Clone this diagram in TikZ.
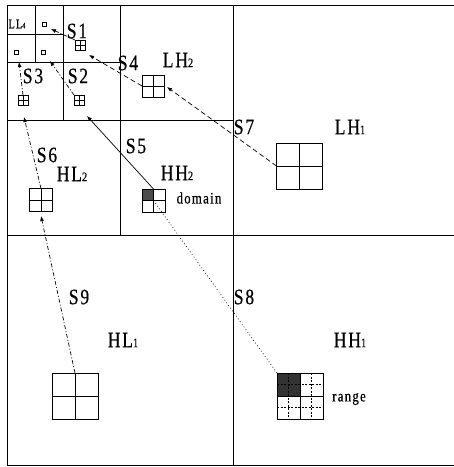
\documentclass[tikz,border=0pt]{standalone}
\usepackage{fontspec}
\setmainfont{Liberation Serif}
\newfontfamily\labfont[FakeStretch=0.8,LetterSpace=8,FakeBold=0.5]{Liberation Serif}
\usetikzlibrary{arrows.meta,calc}
\newcommand{\lowdig}[1]{{\fontsize{13}{13}\selectfont #1}}
\newcommand{\tinydig}[1]{{\fontsize{8}{8}\selectfont #1}}
\begin{document}
\begin{tikzpicture}[x=1pt,y=-1pt,
  bandline/.style={line width=1pt},
  quad/.style={draw, line width=0.8pt, minimum size=#1, inner sep=0pt, outer sep=0pt,
     path picture={\draw[line width=0.8pt] (path picture bounding box.north) -- (path picture bounding box.south) (path picture bounding box.west) -- (path picture bounding box.east);}},
  quadfill/.style={draw, line width=0.8pt, minimum size=#1, inner sep=0pt, outer sep=0pt,
     path picture={\fill[black!70] (path picture bounding box.north west) rectangle (path picture bounding box.center);
       \draw[line width=0.8pt] (path picture bounding box.north) -- (path picture bounding box.south) (path picture bounding box.west) -- (path picture bounding box.east);}},
  tinysq/.style={draw, line width=0.8pt, minimum size=4pt, inner sep=0pt, outer sep=0pt},
  lab/.style={font=\labfont\fontsize{22}{22}\selectfont, inner sep=0pt},
  smalllab/.style={font=\labfont\fontsize{16}{16}\selectfont, inner sep=0pt},
  arr/.style={line width=0.7pt, -{Latex[length=5pt,width=4pt]}},
  dshdot/.style={dash pattern=on 4pt off 2pt on 1pt off 2pt},
  dsh/.style={dash pattern=on 5pt off 3pt},
  dts/.style={line width=0.7pt, dash pattern=on 0.8pt off 2.5pt},
]
\useasboundingbox (0,0) rectangle (454,467);
% subband lines
\draw[bandline] (454,5) -- (7,5) -- (7,465) -- (454,465);
\draw[bandline] (233,5) -- (233,465);
\draw[bandline] (7,235) -- (454,235);
\draw[bandline] (120,5) -- (120,235);
\draw[bandline] (7,120) -- (233,120);
\draw[bandline] (63,5) -- (63,120);
\draw[bandline] (7,62) -- (120,62);
\draw[bandline] (35,5) -- (35,62);
\draw[bandline] (7,34) -- (63,34);
% tiny squares
\node[tinysq] (t1) at (44,24) {};
\node[tinysq] (t2) at (16,52) {};
\node[tinysq] (t3) at (43,52) {};
% grids
\node[quad=10pt] (s1) at (80,45) {};
\node[quad=10pt] (s3) at (23,100) {};
\node[quad=10pt] (s2) at (79,100) {};
\node[quad=22pt] (lh2) at (153,86) {};
\node[quad=23pt] (hl2) at (41,200) {};
\node[quadfill=23pt] (hh2) at (153.5,200.5) {};
\node[quad=46pt] (lh1) at (299.5,166) {};
\node[quad=46pt] (hl1) at (75,396) {};
\node[draw, line width=0.8pt, minimum size=46pt, inner sep=0pt, outer sep=0pt] (hh1) at (300,396) {};
\fill[black!80] (hh1.north west) rectangle (hh1.center);
\draw[line width=0.6pt, dash pattern=on 2pt off 1.5pt]
  ($(hh1.north west)!0.25!(hh1.north east)$) -- ($(hh1.south west)!0.25!(hh1.south east)$)
  ($(hh1.north west)!0.75!(hh1.north east)$) -- ($(hh1.south west)!0.75!(hh1.south east)$)
  ($(hh1.north west)!0.25!(hh1.south west)$) -- ($(hh1.north east)!0.25!(hh1.south east)$)
  ($(hh1.north west)!0.75!(hh1.south west)$) -- ($(hh1.north east)!0.75!(hh1.south east)$);
\draw[line width=0.8pt] (hh1.north) -- (hh1.south) (hh1.west) -- (hh1.east);
\draw[line width=0.8pt] (hh1.north west) rectangle (hh1.south east);
% arrow tips
\coordinate (a1) at (51,29);
\coordinate (a2) at (50,61);
\coordinate (a3) at (19,62);
\coordinate (a4) at (89,55);
\coordinate (a5) at (87,116);
\coordinate (a6) at (24,117);
\coordinate (a7) at (167,87);
\coordinate (a9) at (41,216);
% connectors
\draw[arr, dshdot] (s1.north west) -- (a1);
\draw[arr, dshdot] (s2.north west) -- (a2);
\draw[arr, dshdot] (s3.north) -- (a3);
\draw[arr, dsh] (lh2.west) -- (a4);
\draw[arr] (hh2.north) -- (a5);
\draw[arr, dshdot] (hl2.north) -- (a6);
\draw[arr, dsh] (lh1.west) -- (a7);
\draw[dts] (hh2.center) -- (hh1.north west);
\draw[arr, dshdot] (hl1.north) -- (a9);
% labels
\node[font=\labfont\fontsize{13}{13}\selectfont, inner sep=0pt] (lLL4) at (17,24) {LL\tinydig{4}};
\node[lab] (lS1) at (77,31) {S1};
\node[lab] (lS2) at (78,76) {S2};
\node[lab] (lS3) at (33,76) {S3};
\node[lab] (lS4) at (128,63) {S4};
\node[lab] (lS5) at (136,146) {S5};
\node[lab] (lS6) at (47,155) {S6};
\node[lab] (lS7) at (244,127) {S7};
\node[lab] (lS8) at (244,297) {S8};
\node[lab] (lS9) at (79,297) {S9};
\node[lab] (lLH2) at (178,60) {LH\lowdig{2}};
\node[lab] (lLH1) at (350,127) {LH\lowdig{1}};
\node[lab] (lHL2) at (72,174) {HL\lowdig{2}};
\node[lab] (lHH2) at (177,173) {HH\lowdig{2}};
\node[lab] (lHL1) at (123,340) {HL\lowdig{1}};
\node[lab] (lHH1) at (350,340) {HH\lowdig{1}};
\node[smalllab] (ldom) at (199,198) {domain};
\node[smalllab] (lrng) at (349,399) {range};
\end{tikzpicture}
\end{document}
